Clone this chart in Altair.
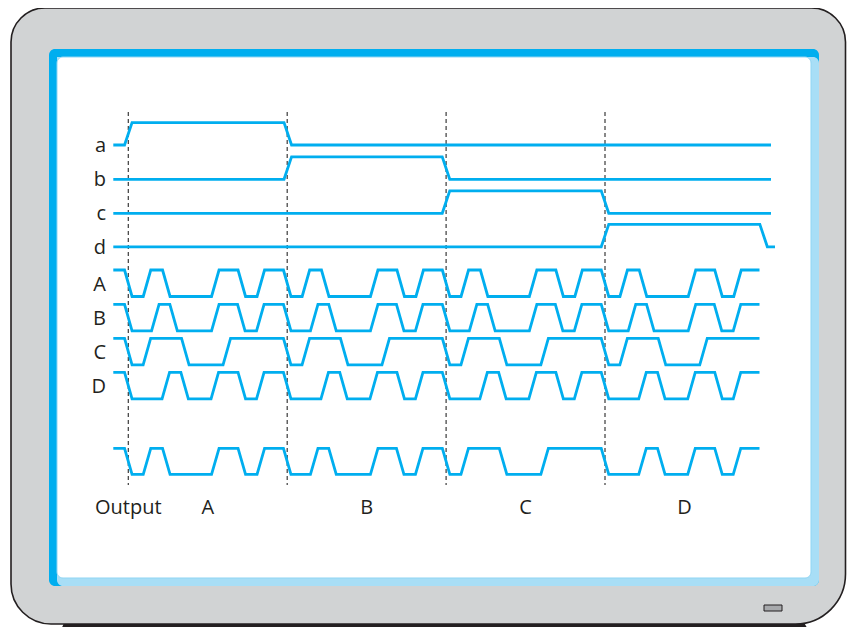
import altair as alt
import pandas as pd

# ---------------- data ----------------
select_names = ["a", "b", "c", "d"]
select_rise = [128.3, 287.8, 446.0, 605.0]
select_fall = [287.8, 446.0, 605.0, 763.6]

clock_names = ["A", "B", "C", "D"]
# edge times inside one period (first edge falls, then alternate)
clock_edge_A = [0, 18.7, 38.0, 87.0, 113.5, 132.5]
clock_edge_B = [0, 27.0, 45.3, 87.0, 113.0, 132.0]
clock_edge_C = [0, 18.6, 57.0, 98.5]
clock_edge_D = [0, 37.5, 56.3, 86.5, 113.5, 132.0]

segment_starts = [128.3, 287.2, 446.1, 605.0]
segment_labels = ["A", "B", "C", "D"]
output_source = ["A", "B", "C", "D"]
output_label = "Output"

# ---------------- layout ----------------
W, H = 839, 619
XS = alt.Scale(domain=[8, 8 + W], nice=False, zero=False)
YS = alt.Scale(domain=[8, 8 + H], nice=False, zero=False, reverse=True)
WAVE = "#00AEEF"
INK = "#231F20"

wave_start = 113.3
clock_end = 759.5
select_end = [771.0, 771.0, 771.0, 775.0]
ramp = 7.5
period = 158.9
sel_low = [145.0, 179.3, 213.3, 246.8]
sel_swing = 22.4
clk_high = [270.0, 304.3, 338.3, 372.3]
clk_swing = 26.5
out_high = 448.3
out_swing = 26.0


def trace(edges, y_hi, y_lo, start_high, x0, x1):
    level = y_hi if start_high else y_lo
    pts = [(x0, level)]
    for t in edges:
        new = y_lo if level == y_hi else y_hi
        pts.append((t - ramp / 2, level))
        pts.append((t + ramp / 2, new))
        level = new
    pts.append((x1, level))
    return pts


clock_edges = {"A": clock_edge_A, "B": clock_edge_B, "C": clock_edge_C, "D": clock_edge_D}

rows = []
for k, name in enumerate(select_names):
    pts = trace([select_rise[k], select_fall[k]], sel_low[k] - sel_swing, sel_low[k],
                False, wave_start, select_end[k])
    rows += [{"sig": name, "i": i, "x": x, "y": y} for i, (x, y) in enumerate(pts)]

for k, name in enumerate(clock_names):
    edges = [s + o for s in segment_starts for o in clock_edges[name]]
    edges = [e for e in edges if e < clock_end]
    pts = trace(edges, clk_high[k], clk_high[k] + clk_swing, True, wave_start, clock_end)
    rows += [{"sig": name + "_clk", "i": i, "x": x, "y": y} for i, (x, y) in enumerate(pts)]

out_edges = []
for s, src in zip(segment_starts, output_source):
    out_edges += [s + o for o in clock_edges[src]]
pts = trace(out_edges, out_high, out_high + out_swing, True, wave_start, clock_end)
rows += [{"sig": "out", "i": i, "x": x, "y": y} for i, (x, y) in enumerate(pts)]
waves = pd.DataFrame(rows)


def X(f="x"):
    return alt.X(f + ":Q", scale=XS, axis=None)


def Y(f="y"):
    return alt.Y(f + ":Q", scale=YS, axis=None)


def box(x, x2, y, y2):
    return pd.DataFrame({"x": [x], "x2": [x2], "y": [y], "y2": [y2]})


def rect(df, **kw):
    return alt.Chart(df).mark_rect(**kw).encode(
        x=X(), x2="x2:Q", y=Y(), y2="y2:Q")


# monitor stand
stand = alt.Chart(pd.DataFrame({"x": [56, 66, 802, 814], "y": [640, 619, 619, 640],
                                "y2": [640, 640, 640, 640]})).mark_area(
    color=INK, clip=True).encode(x=X(), y=Y(), y2="y2:Q")

frame = rect(box(11, 845.5, 8, 624), fill="#D1D3D4", stroke=INK, strokeWidth=1.6,
             cornerRadiusTopLeft=34, cornerRadiusTopRight=34,
             cornerRadiusBottomLeft=40, cornerRadiusBottomRight=50)
led = rect(box(764, 782, 605, 611), fill="#A7A9AC", stroke=INK, strokeWidth=1)
bezel_dark = rect(box(49, 819, 49, 586), fill="#00AEEF", cornerRadius=6)
bezel_light = rect(box(57, 819, 57, 586), fill="#A8DEF6",
                   cornerRadiusTopRight=6, cornerRadiusBottomRight=6, cornerRadiusBottomLeft=6)
screen = rect(box(57, 811, 57, 578), fill="white", stroke="#8FD5F3", strokeWidth=1, cornerRadius=6)

dashes = alt.Chart(pd.DataFrame({"x": segment_starts, "y": [112] * 4, "y2": [485] * 4})).mark_rule(
    color="#3A3A3A", strokeWidth=1.2, strokeDash=[4, 3]).encode(x=X(), y=Y(), y2="y2:Q")

lines = alt.Chart(waves).mark_line(color=WAVE, strokeWidth=2.8, strokeJoin="miter",
                                   strokeCap="butt").encode(
    x=X(), y=Y(), detail="sig:N", order="i:Q")

lab_df = pd.DataFrame({
    "x": [106.0] * 8,
    "y": [v + 6.8 for v in sel_low] + [v + 21.0 for v in clk_high],
    "t": select_names + clock_names,
})
labels = alt.Chart(lab_df).mark_text(align="right", baseline="alphabetic", font="Open Sans",
                                     fontSize=20, color=INK).encode(x=X(), y=Y(), text="t:N")

seg_df = pd.DataFrame({"x": [s + period / 2 for s in segment_starts], "y": [514.0] * 4,
                       "t": segment_labels})
seg_labels = alt.Chart(seg_df).mark_text(align="center", baseline="alphabetic", font="Open Sans",
                                         fontSize=20, color=INK).encode(x=X(), y=Y(), text="t:N")
out_df = pd.DataFrame({"x": [95.0], "y": [514.0], "t": [output_label]})
out_text = alt.Chart(out_df).mark_text(align="left", baseline="alphabetic", font="Open Sans",
                                       fontSize=20, color=INK).encode(x=X(), y=Y(), text="t:N")

chart = alt.layer(stand, frame, led, bezel_dark, bezel_light, screen, dashes, lines,
                  labels, seg_labels, out_text).properties(
    width=W, height=H, autosize=alt.AutoSizeParams(type="none"), padding=0,
    background="white").configure_view(stroke=None)

chart.save("out.html", embed_options={"renderer": "svg", "actions": False})
